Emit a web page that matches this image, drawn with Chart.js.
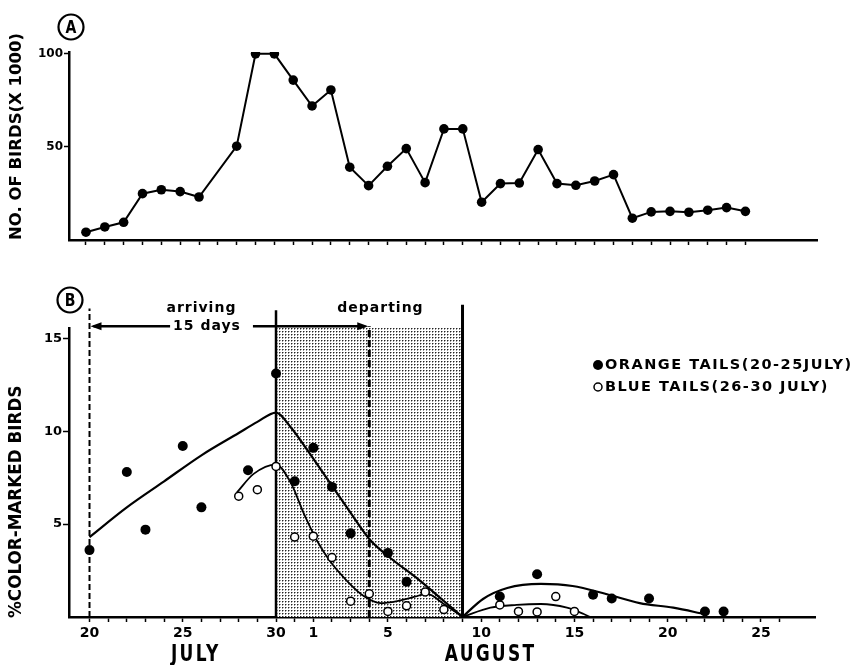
<!DOCTYPE html>
<html>
<head>
<meta charset="utf-8">
<script src="https://cdn.jsdelivr.net/npm/chart.js@4/dist/chart.umd.min.js"></script>
<style>
  html, body { margin: 0; padding: 0; background: #fff; }
  #wrap { position: relative; width: 864px; height: 665px; overflow: hidden; }
  canvas { position: absolute; left: 0; }
  #panelA { top: 0; }
  #panelB { top: 250px; }
</style>
</head>
<body>
<div id="wrap">
  <canvas id="panelA" width="864" height="250"></canvas>
  <canvas id="panelB" width="864" height="415"></canvas>
</div>
<script>
// Days are counted from 20 July (day 0); 1 August is day 12.

// Panel A: number of birds present (thousands)
const countDays      = [0, 1, 2, 3, 4, 5, 6, 8, 9, 10, 11, 12, 13, 14, 15, 16, 17, 18, 19, 20, 21, 22, 23, 24, 25, 26, 27, 28, 29, 30, 31, 32, 33, 34, 35];
const birdsThousands = [4.2, 7.0, 9.5, 24.9, 27.0, 26.0, 23.1, 50.4, 100, 100, 85.9, 72.0, 80.6, 39.1, 29.2, 39.6, 49.1, 30.8, 59.7, 59.7, 20.3, 30.3, 30.6, 48.6, 30.3, 29.4, 31.7, 35.1, 11.7, 15.1, 15.4, 14.9, 16.0, 17.4, 15.4];
const countTicks     = [50, 100];

// Panel B: percentage of colour-marked birds
const orangeDays = [0, 2, 3, 5, 6, 8.5, 10, 11, 12, 13, 14, 16, 17, 22, 24, 27, 28, 30, 33, 34];
const orangePct  = [3.6, 7.8, 4.7, 9.2, 5.9, 7.9, 13.1, 7.3, 9.1, 7.0, 4.5, 3.45, 1.9, 1.1, 2.3, 1.2, 1.0, 1.0, 0.3, 0.3];
const blueDays   = [8, 9, 10, 11, 12, 13, 14, 15, 16, 17, 18, 19, 22, 23, 24, 25, 26];
const bluePct    = [6.5, 6.85, 8.1, 4.3, 4.35, 3.2, 0.85, 1.25, 0.3, 0.6, 1.35, 0.4, 0.65, 0.3, 0.27, 1.1, 0.3];

// Hand-fitted trend curves
const orangeFitDays  = [0, 2, 4, 6, 8, 9, 10, 10.8, 11.7, 12.9, 13.8, 15, 16.1, 17.6, 19, 20];
const orangeFitPct   = [4.3, 5.9, 7.3, 8.7, 9.9, 10.5, 11.0, 10.2, 8.95, 7.2, 5.9, 4.2, 3.2, 2.05, 0.86, 0];
const orangeFit2Days = [20, 21.1, 22.4, 24.2, 25.9, 27.7, 29.5, 31.3, 33];
const orangeFit2Pct  = [0, 0.97, 1.56, 1.78, 1.67, 1.24, 0.75, 0.5, 0.15];
const blueFitDays    = [7.9, 8.8, 10, 10.8, 11.5, 12.2, 12.9, 13.8, 14.7, 15.6, 16.5, 17.4, 18.1, 19, 20];
const blueFitPct     = [6.7, 7.7, 8.2, 7.2, 5.55, 4.1, 3.0, 1.95, 1.13, 0.75, 0.86, 1.08, 1.24, 0.7, 0];
const blueFit2Days   = [20, 21.5, 22.9, 24.2, 25.6, 26.5, 26.8];
const blueFit2Pct    = [0, 0.5, 0.65, 0.7, 0.5, 0.16, 0.02];

const pctTicks       = [5, 10, 15];
const dateTickDays   = [0, 5, 10, 12, 16, 21, 26, 31, 36];
const dateTickLabels = ['20', '25', '30', '1', '5', '10', '15', '20', '25'];
const monthNames     = ['JULY', 'AUGUST'];
const monthMidDays   = [5.7, 21.5];

// Study periods: arrival window and departure window
const arrivalStart = 0, peakDay = 10, departEnd = 15, lastDay = 20;
const shadeSpan    = [10, 20];
const shadeTop     = 15.55;

const FONT = '"DejaVu Sans", "Liberation Sans", Arial, sans-serif';
const pts = (xs, ys) => xs.map((d, i) => ({ x: d, y: ys[i] }));
const everyDay = n => Array.from({ length: n + 1 }, (_, i) => i);

function text(ctx, s, x, y, o = {}) {
  ctx.save();
  ctx.translate(x, y);
  if (o.rot) ctx.rotate(o.rot);
  ctx.scale(o.sx || 1, 1);
  ctx.font = `bold ${o.size || 14}px ${FONT}`;
  ctx.letterSpacing = (o.ls || 0) + 'px';
  ctx.fillStyle = '#000';
  ctx.textAlign = o.align || 'center';
  ctx.textBaseline = o.base || 'middle';
  ctx.fillText(s, 0, 0);
  ctx.restore();
}

function circledLetter(ctx, s, cx, cy) {
  ctx.save();
  ctx.beginPath();
  ctx.arc(cx, cy, 12.5, 0, Math.PI * 2);
  ctx.lineWidth = 2.2;
  ctx.strokeStyle = '#000';
  ctx.stroke();
  ctx.restore();
  text(ctx, s, cx, cy + 1, { size: 18, sx: 0.78 });
}

const axisBorder = { display: true, color: '#000', width: 2.5 };
const tickGrid = { drawOnChartArea: false, drawTicks: true, tickLength: 5, tickWidth: 1.5, color: '#000' };

// ---------- Panel A ----------
const annotA = {
  id: 'annotA',
  afterDraw(chart) {
    const { ctx, chartArea } = chart;
    circledLetter(ctx, 'A', chartArea.left + 2, chartArea.top - 25);
    text(ctx, 'NO. OF BIRDS(X 1000)', 17, chartArea.bottom, { rot: -Math.PI / 2, align: 'left', size: 16.5 });
  }
};

new Chart(document.getElementById('panelA'), {
  type: 'scatter',
  data: {
    datasets: [{
      data: pts(countDays, birdsThousands),
      showLine: true, tension: 0,
      borderColor: '#000', borderWidth: 2,
      pointRadius: 4.8, pointBackgroundColor: '#000', pointBorderWidth: 0
    }]
  },
  options: {
    responsive: false, animation: false, devicePixelRatio: 1,
    layout: { padding: { top: 52, right: 47, bottom: 0, left: 0 } },
    plugins: { legend: { display: false }, tooltip: { enabled: false } },
    scales: {
      x: {
        type: 'linear', min: -0.9, max: 38.8,
        afterBuildTicks: s => { s.ticks = everyDay(35).map(v => ({ value: v })); },
        afterFit: s => { s.height = 10; },
        ticks: { display: false },
        grid: tickGrid, border: axisBorder
      },
      y: {
        min: 0, max: 101,
        afterBuildTicks: s => { s.ticks = countTicks.map(v => ({ value: v })); },
        afterFit: s => { s.width = 69; },
        ticks: { color: '#000', font: { family: FONT, weight: 'bold', size: 12 }, padding: 1 },
        grid: tickGrid, border: axisBorder
      }
    }
  },
  plugins: [annotA]
});

// ---------- Panel B ----------
function stipplePattern(ctx) {
  const c = document.createElement('canvas');
  c.width = 3; c.height = 3;
  const g = c.getContext('2d');
  g.fillStyle = '#fff'; g.fillRect(0, 0, 3, 3);
  g.fillStyle = '#9a9a9a'; g.fillRect(1, 0, 1, 1); g.fillRect(0, 1, 1, 1);
  g.fillStyle = '#222'; g.fillRect(0, 0, 1, 1);
  return ctx.createPattern(c, 'repeat');
}

function arrowHead(ctx, x, y, dir) {
  ctx.beginPath();
  ctx.moveTo(x, y);
  ctx.lineTo(x - dir * 11, y - 4);
  ctx.lineTo(x - dir * 11, y + 4);
  ctx.closePath();
  ctx.fill();
}

const annotB = {
  id: 'annotB',
  beforeDatasetsDraw(chart) {
    const { ctx, scales: { x, y } } = chart;
    ctx.save();
    // departure window shading
    const sx0 = x.getPixelForValue(shadeSpan[0]), sx1 = x.getPixelForValue(shadeSpan[1]);
    const sy0 = y.getPixelForValue(shadeTop), sy1 = y.getPixelForValue(0);
    ctx.fillStyle = stipplePattern(ctx);
    ctx.fillRect(sx0, sy0, sx1 - sx0, sy1 - sy0);

    // period boundaries
    const bounds = [
      { day: arrivalStart, top: 16.6, dash: [6, 3], w: 2 },
      { day: peakDay,      top: 16.5, dash: [],     w: 2.5 },
      { day: departEnd,    top: 15.65, dash: [7, 3], w: 3 },
      { day: lastDay,      top: 16.8, dash: [],     w: 3 }
    ];
    ctx.strokeStyle = '#000';
    bounds.forEach(b => {
      const px = x.getPixelForValue(b.day);
      ctx.setLineDash(b.dash);
      ctx.lineWidth = b.w;
      ctx.beginPath();
      ctx.moveTo(px, y.getPixelForValue(0));
      ctx.lineTo(px, y.getPixelForValue(b.top));
      ctx.stroke();
    });
    ctx.setLineDash([]);

    // "15 days" arrow
    const ay = y.getPixelForValue(15.65);
    const ax0 = x.getPixelForValue(arrivalStart), ax1 = x.getPixelForValue(departEnd);
    const tx = x.getPixelForValue(6.3);
    ctx.font = `bold 14px ${FONT}`;
    ctx.letterSpacing = '1px';
    const tw = ctx.measureText('15 days').width;
    ctx.lineWidth = 2.5;
    ctx.fillStyle = '#000';
    ctx.beginPath();
    ctx.moveTo(ax0 + 4, ay); ctx.lineTo(tx - tw / 2 - 3, ay);
    ctx.moveTo(tx + tw / 2 + 12, ay); ctx.lineTo(ax1 - 4, ay);
    ctx.stroke();
    arrowHead(ctx, ax0 + 1, ay, -1);
    arrowHead(ctx, ax1 - 1, ay, 1);
    ctx.restore();

    text(ctx, '15 days', tx, ay, { size: 14, ls: 1 });
    text(ctx, 'arriving', x.getPixelForValue(6.0), y.getPixelForValue(16.6), { size: 14, ls: 1 });
    text(ctx, 'departing', x.getPixelForValue(15.6), y.getPixelForValue(16.6), { size: 14, ls: 1 });
  },
  afterDraw(chart) {
    const { ctx, chartArea, scales: { x } } = chart;
    circledLetter(ctx, 'B', chartArea.left + 1, chartArea.top - 28);
    text(ctx, '%COLOR-MARKED BIRDS', 17, chartArea.bottom + 1, { rot: -Math.PI / 2, align: 'left', size: 16.8 });

    monthNames.forEach((m, i) => {
      text(ctx, m, x.getPixelForValue(monthMidDays[i]), chartArea.bottom + 38, { size: 23, sx: 0.74, ls: 3 });
    });

    // legend
    const lx = 598, ly1 = 115, ly2 = 137;
    ctx.save();
    ctx.fillStyle = '#000';
    ctx.beginPath(); ctx.arc(lx, ly1, 5, 0, Math.PI * 2); ctx.fill();
    ctx.lineWidth = 1.5; ctx.strokeStyle = '#000';
    ctx.beginPath(); ctx.arc(lx, ly2, 4, 0, Math.PI * 2); ctx.stroke();
    ctx.restore();
    text(ctx, 'ORANGE TAILS(20-25JULY)', lx + 7, ly1, { size: 14.5, ls: 1.5, align: 'left' });
    text(ctx, 'BLUE TAILS(26-30 JULY)', lx + 7, ly2, { size: 14.5, ls: 1.5, align: 'left' });
  }
};

const curve = (xs, ys, w) => ({
  data: pts(xs, ys), showLine: true, cubicInterpolationMode: 'monotone',
  borderColor: '#000', borderWidth: w, pointRadius: 0, clip: false
});

new Chart(document.getElementById('panelB'), {
  type: 'scatter',
  data: {
    datasets: [
      { label: 'ORANGE TAILS(20-25JULY)', data: pts(orangeDays, orangePct),
        pointRadius: 5, pointBackgroundColor: '#000', pointBorderWidth: 0, clip: false },
      { label: 'BLUE TAILS(26-30 JULY)', data: pts(blueDays, bluePct),
        pointRadius: 4, pointBackgroundColor: '#fff', pointBorderColor: '#000', pointBorderWidth: 1.5, clip: false },
      curve(orangeFitDays, orangeFitPct, 2.2),
      curve(orangeFit2Days, orangeFit2Pct, 2.2),
      curve(blueFitDays, blueFitPct, 1.8),
      curve(blueFit2Days, blueFit2Pct, 1.8)
    ]
  },
  options: {
    responsive: false, animation: false, devicePixelRatio: 1,
    layout: { padding: { top: 78, right: 49, bottom: 0, left: 0 } },
    plugins: { legend: { display: false }, tooltip: { enabled: false } },
    scales: {
      x: {
        type: 'linear', min: -1.1, max: 38.9,
        afterBuildTicks: s => { s.ticks = everyDay(37).map(v => ({ value: v })); },
        afterFit: s => { s.height = 48; },
        ticks: {
          autoSkip: false, maxRotation: 0, padding: 3, color: '#000',
          font: { family: FONT, weight: 'bold', size: 14 },
          callback: v => { const k = dateTickDays.indexOf(v); return k >= 0 ? dateTickLabels[k] : ''; }
        },
        grid: tickGrid, border: axisBorder
      },
      y: {
        min: 0, max: 15.55,
        afterBuildTicks: s => { s.ticks = pctTicks.map(v => ({ value: v })); },
        afterFit: s => { s.width = 69; },
        ticks: { color: '#000', font: { family: FONT, weight: 'bold', size: 13 }, padding: 1 },
        grid: { ...tickGrid, tickLength: 6 }, border: axisBorder
      }
    }
  },
  plugins: [annotB]
});
</script>
</body>
</html>
